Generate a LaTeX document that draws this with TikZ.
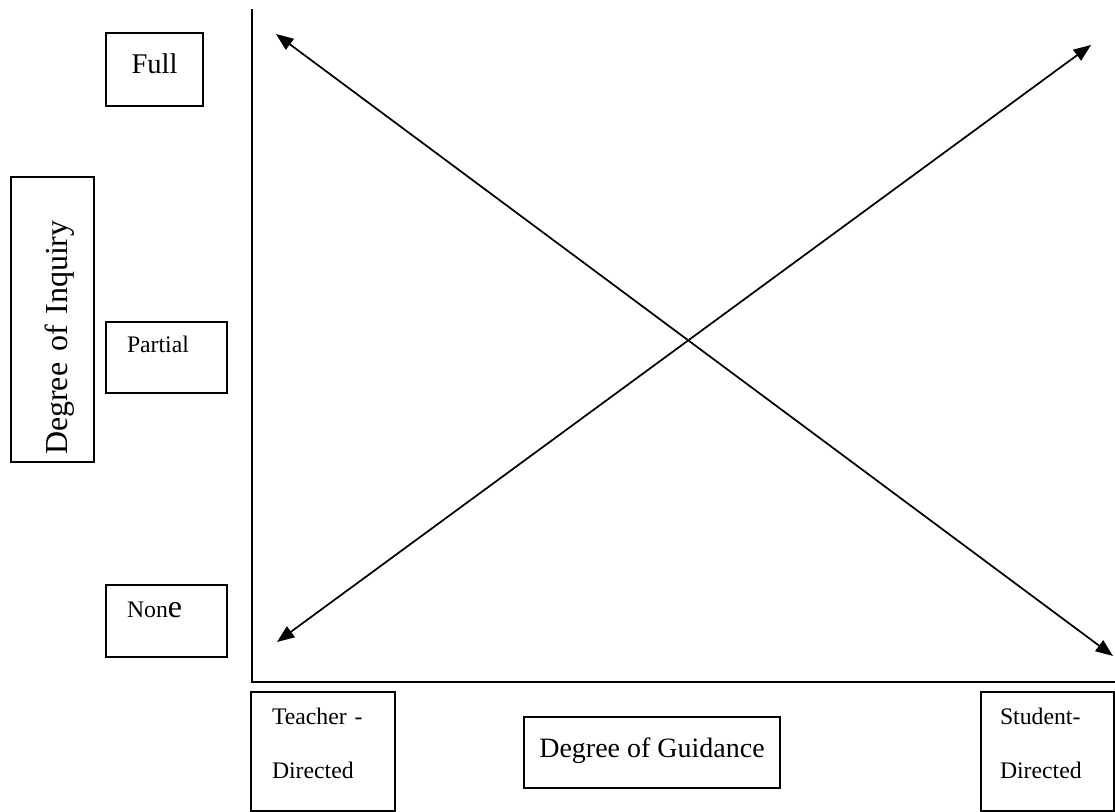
\documentclass[tikz,border=0pt]{standalone}
\usepackage{fontspec}
\setmainfont{Liberation Serif}
\usepackage{tikz}
\usetikzlibrary{arrows.meta,positioning}

\begin{document}
\begin{tikzpicture}[
  x=0.75pt, y=-0.75pt,
  box/.style={rectangle, draw, line width=1.2pt, inner ysep=3pt},
  level/.style={box, align=left, inner xsep=15.75pt, text width=59.25pt, font=\fontsize{17.8}{21}\selectfont},
  pole/.style={box, align=left, minimum height=89.25pt, font=\fontsize{17.8}{40.5}\selectfont},
  axistitle/.style={box, font=\fontsize{21}{26}\selectfont},
  axis/.style={line width=1.5pt},
  arrow/.style={{Triangle[length=13pt,width=10pt]}-{Triangle[length=13pt,width=10pt]}, line width=1.3pt}
]
\useasboundingbox (0,0) rectangle (1115,812);

% Levels of inquiry
\node[box, minimum width=72.75pt, minimum height=54.75pt, text depth=9pt, font=\fontsize{21.4}{25}\selectfont] (full) at (154.5,69.5) {Full};
\node[level, minimum height=53.25pt, text height=12pt, text depth=19pt] (partial) at (166.5,357.5) {Partial};
\node[level, minimum height=54pt, text height=12pt, text depth=16.5pt] (none) at (166.5,621) {Non{\fontsize{24}{26}\selectfont e}};

% Vertical axis title
\node[axistitle, rotate=90, align=left, inner xsep=5.25pt, text width=203.25pt, minimum height=62.25pt, text height=28pt, text depth=5pt, font=\fontsize{24}{28}\selectfont] (inquiry) at (52.5,319.5) {Degree of Inquiry};

% Guidance poles
\node[pole, inner xsep=15.75pt, text width=76.5pt, text height=12pt, text depth=51.75pt] (teacher) at (323,751.5) {Teacher -\\Directed};
\node[pole, inner xsep=14.25pt, text width=71.25pt, text height=12pt, text depth=51.75pt] (student) at (1047.5,751.5) {Student-\\Directed};

% Horizontal axis title
\node[axistitle, minimum width=192pt, minimum height=53.25pt, text height=15pt, text depth=6.75pt] (guidance) at (652,752.5) {Degree of Guidance};

% Axes
\coordinate (ytop) at (252,9);
\coordinate (xend) at (1115,682);
\draw[axis] (ytop) |- (xend);

% Crossing arrows
\coordinate (tl) at (276,34);
\coordinate (br) at (1113,656);
\coordinate (bl) at (277,642);
\coordinate (tr) at (1091,45);
\draw[arrow] (tl) -- (br);
\draw[arrow] (bl) -- (tr);

\end{tikzpicture}
\end{document}
